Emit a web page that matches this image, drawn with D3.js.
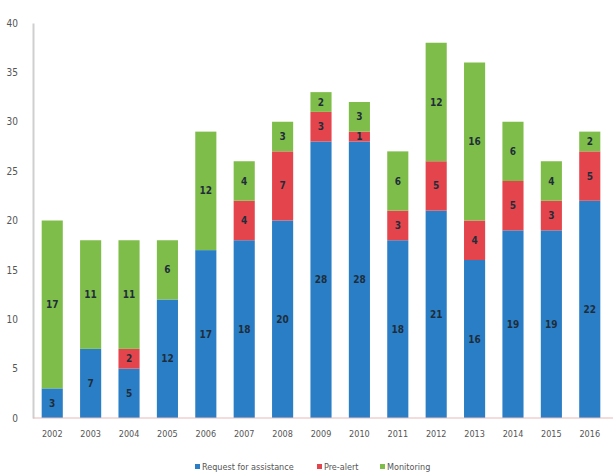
<!DOCTYPE html>
<html>
<head>
<meta charset="utf-8">
<script src="https://cdn.jsdelivr.net/npm/d3@7"></script>
<style>
  body { margin: 0; background: #fff; }
  text { font-family: "Liberation Sans Narrow", "DejaVu Sans Condensed", "Liberation Sans", sans-serif; }
</style>
</head>
<body>
<svg id="chart"></svg>
<script>
// chart data
let years = ["2002", "2003", "2004", "2005", "2006", "2007", "2008", "2009",
             "2010", "2011", "2012", "2013", "2014", "2015", "2016"];
let requestForAssistance = [3, 7, 5, 12, 17, 18, 20, 28, 28, 18, 21, 16, 19, 19, 22];
let preAlert = [0, 0, 2, 0, 0, 4, 7, 3, 1, 3, 5, 4, 5, 3, 5];
let monitoring = [17, 11, 11, 6, 12, 4, 3, 2, 3, 6, 12, 16, 6, 4, 2];
let seriesNames = ["Request for assistance", "Pre-alert", "Monitoring"];
let yTicks = [0, 5, 10, 15, 20, 25, 30, 35, 40];

let colors = ["#2a7ec6", "#e4454c", "#7fbd4a"];

let width = 613, height = 475;
let margin = { top: 23, right: 5, bottom: 57, left: 34 };

let svg = d3.select("#chart")
    .attr("width", width)
    .attr("height", height);

// build a table for d3.stack
let table = years.map((y, i) => ({
    year: y,
    "Request for assistance": requestForAssistance[i],
    "Pre-alert": preAlert[i],
    "Monitoring": monitoring[i]
}));
let stacked = d3.stack().keys(seriesNames)(table);

let x = d3.scaleBand()
    .domain(years)
    .range([margin.left, width - margin.right])
    .paddingInner(0.45)
    .paddingOuter(0.2);

let y = d3.scaleLinear()
    .domain([0, 40])
    .range([height - margin.bottom, margin.top]);

// y axis: labels only, plus a light vertical line
let yAxis = svg.append("g")
    .attr("transform", "translate(" + (margin.left - 1) + ",0)")
    .call(d3.axisLeft(y).tickValues(yTicks).tickSize(0).tickPadding(15));
yAxis.select(".domain").attr("stroke", "#cfcfcf").attr("stroke-width", 2);
yAxis.selectAll("text").attr("fill", "#555").attr("font-size", 10);

// bars
svg.selectAll("g.series")
    .data(stacked)
    .enter()
    .append("g")
    .attr("class", "series")
    .attr("fill", (d, i) => colors[i])
    .selectAll("rect")
    .data(d => d)
    .enter()
    .append("rect")
    .attr("x", d => x(d.data.year))
    .attr("width", x.bandwidth())
    .attr("y", d => y(d[1]))
    .attr("height", d => y(d[0]) - y(d[1]));

// value labels in the middle of each segment
svg.selectAll("g.labels")
    .data(stacked)
    .enter()
    .append("g")
    .attr("class", "labels")
    .selectAll("text")
    .data(d => d.filter(p => p[1] - p[0] > 0))
    .enter()
    .append("text")
    .attr("x", d => x(d.data.year) + x.bandwidth() / 2)
    .attr("y", d => y((d[0] + d[1]) / 2))
    .attr("dy", "0.35em")
    .attr("text-anchor", "middle")
    .attr("font-size", 10)
    .attr("font-weight", "bold")
    .attr("fill", "#1f2d3a")
    .text(d => d[1] - d[0]);

// x axis with baseline
let xAxis = svg.append("g")
    .attr("transform", "translate(0," + y(0) + ")")
    .call(d3.axisBottom(x).tickSize(0).tickPadding(13));
xAxis.select(".domain").attr("stroke", "#e8b9b9").attr("d", "M" + (margin.left - 1) + ",0H" + width);
xAxis.selectAll("text").attr("fill", "#555").attr("font-size", 9);

// legend
let legendX = [195, 317, 380];
let legend = svg.append("g")
    .selectAll("g")
    .data(seriesNames)
    .enter()
    .append("g")
    .attr("transform", (d, i) => "translate(" + legendX[i] + "," + 467 + ")");
legend.append("rect")
    .attr("x", 0)
    .attr("y", -3)
    .attr("width", 5)
    .attr("height", 5)
    .attr("fill", (d, i) => colors[i]);
legend.append("text")
    .attr("x", 7)
    .attr("y", 0)
    .attr("dy", "0.35em")
    .attr("font-size", 9)
    .attr("fill", "#555")
    .text(d => d);
</script>
</body>
</html>
